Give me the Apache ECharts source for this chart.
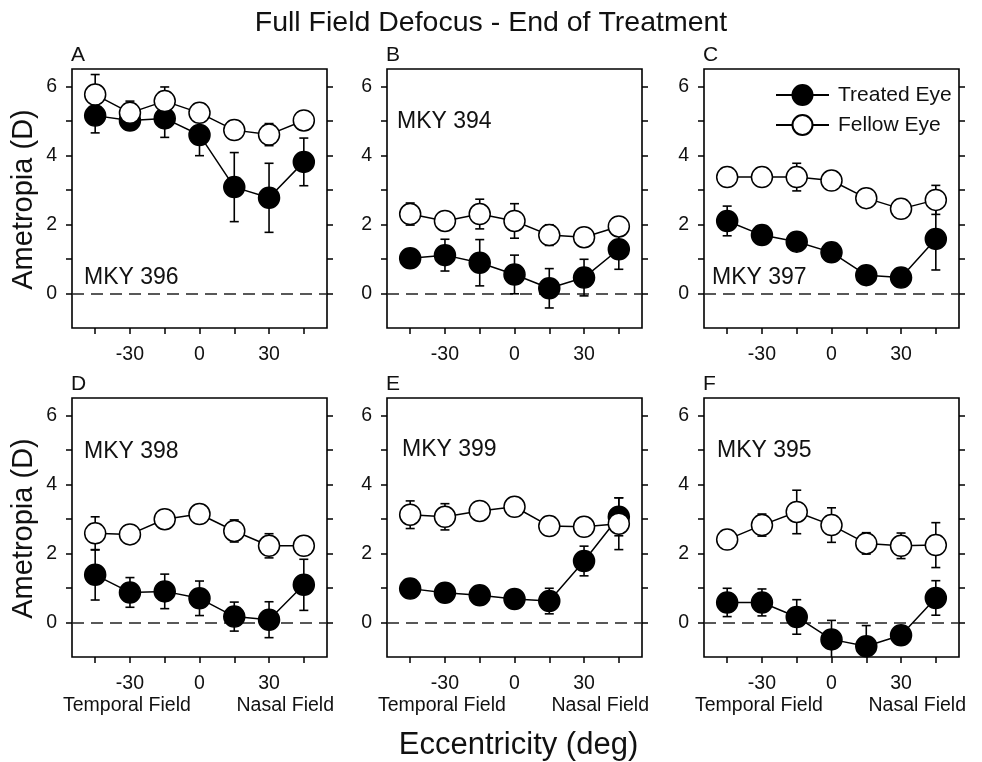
<!DOCTYPE html>
<html>
<head>
<meta charset="utf-8">
<script src="https://cdn.jsdelivr.net/npm/echarts@6/dist/echarts.min.js"></script>
<style>
  html, body { margin: 0; padding: 0; background: #fff; }
  #chart { width: 982px; height: 762px; }
</style>
</head>
<body>
<div id="chart"></div>
<script>
// ---------------- DATA ----------------
const eccentricity = [-45, -30, -15, 0, 15, 30, 45];
const xTicks = [-45, -30, -15, 0, 15, 30, 45];
const xTickLabels = [-30, 0, 30];
const yTicks = [0, 1, 2, 3, 4, 5, 6];
const yTickLabels = [0, 2, 4, 6];
const panelLetters = ['A', 'B', 'C', 'D', 'E', 'F'];
const monkeyNames = ['MKY 396', 'MKY 394', 'MKY 397', 'MKY 398', 'MKY 399', 'MKY 395'];
const seriesNames = ['Treated Eye', 'Fellow Eye'];
const chartTitle = 'Full Field Defocus - End of Treatment';
const xAxisTitle = 'Eccentricity (deg)';
const yAxisTitle = 'Ametropia (D)';
const fieldLabels = ['Temporal Field', 'Nasal Field'];

// Panel A - MKY 396
const treatedA = [5.15, 5.01, 5.07, 4.59, 3.08, 2.77, 3.81];
const treatedErrA = [0.50, 0.20, 0.55, 0.60, 1.00, 1.00, 0.69];
const fellowA = [5.76, 5.23, 5.57, 5.23, 4.73, 4.60, 5.01];
const fellowErrA = [0.58, 0.34, 0.41, 0.20, 0.20, 0.32, 0.20];
// Panel B - MKY 394
const treatedB = [1.02, 1.11, 0.89, 0.55, 0.15, 0.46, 1.28];
const treatedErrB = [0.20, 0.46, 0.67, 0.56, 0.57, 0.53, 0.58];
const fellowB = [2.30, 2.10, 2.30, 2.10, 1.69, 1.63, 1.94];
const fellowErrB = [0.32, 0.20, 0.43, 0.50, 0.30, 0.20, 0.26];
// Panel C - MKY 397
const treatedC = [2.10, 1.69, 1.50, 1.19, 0.53, 0.46, 1.58];
const treatedErrC = [0.43, 0.20, 0.20, 0.20, 0.20, 0.20, 0.90];
const fellowC = [3.37, 3.37, 3.37, 3.27, 2.76, 2.45, 2.71];
const fellowErrC = [0.20, 0.20, 0.40, 0.20, 0.20, 0.20, 0.42];
// Panel D - MKY 398
const treatedD = [1.38, 0.87, 0.90, 0.70, 0.17, 0.08, 1.09];
const treatedErrD = [0.73, 0.43, 0.50, 0.50, 0.42, 0.52, 0.74];
const fellowD = [2.58, 2.55, 2.99, 3.14, 2.65, 2.22, 2.22];
const fellowErrD = [0.48, 0.20, 0.20, 0.20, 0.32, 0.35, 0.20];
// Panel E - MKY 399
const treatedE = [0.98, 0.86, 0.79, 0.68, 0.62, 1.78, 3.06];
const treatedErrE = [0.20, 0.20, 0.20, 0.20, 0.37, 0.43, 0.55];
const fellowE = [3.12, 3.06, 3.23, 3.35, 2.79, 2.77, 2.86];
const fellowErrE = [0.40, 0.38, 0.20, 0.20, 0.20, 0.20, 0.75];
// Panel F - MKY 395
const treatedF = [0.58, 0.58, 0.16, -0.49, -0.69, -0.37, 0.71];
const treatedErrF = [0.41, 0.39, 0.50, 0.55, 0.60, 0.20, 0.50];
const fellowF = [2.40, 2.82, 3.20, 2.82, 2.29, 2.22, 2.24];
const fellowErrF = [0.20, 0.32, 0.63, 0.50, 0.31, 0.37, 0.65];

const panels = [
  { treated: treatedA, treatedErr: treatedErrA, fellow: fellowA, fellowErr: fellowErrA },
  { treated: treatedB, treatedErr: treatedErrB, fellow: fellowB, fellowErr: fellowErrB },
  { treated: treatedC, treatedErr: treatedErrC, fellow: fellowC, fellowErr: fellowErrC },
  { treated: treatedD, treatedErr: treatedErrD, fellow: fellowD, fellowErr: fellowErrD },
  { treated: treatedE, treatedErr: treatedErrE, fellow: fellowE, fellowErr: fellowErrE },
  { treated: treatedF, treatedErr: treatedErrF, fellow: fellowF, fellowErr: fellowErrF }
];

// ---------------- LAYOUT / STYLE ----------------
const FONT = "'Liberation Sans', Arial, Helvetica, sans-serif";
const INK = '#111';
const gridLefts = [72, 387, 704];
const gridTops = [69, 398];
const GW = 255, GH = 259;
const monkeyOffsets = [[12, 209], [10, 53], [8, 208.5], [12, 54], [15, 52], [13, 52.5]];

const grids = [], xAxes = [], yAxes = [], series = [], graphics = [];

function errorBarRender(params, api) {
  const x = api.value(0), y = api.value(1), e = api.value(2);
  const p1 = api.coord([x, y + e]);
  const p2 = api.coord([x, y - e]);
  const cap = 4.5;
  const st = { stroke: '#000', lineWidth: 1.6 };
  return {
    type: 'group',
    children: [
      { type: 'line', shape: { x1: p1[0], y1: p1[1], x2: p2[0], y2: p2[1] }, style: st },
      { type: 'line', shape: { x1: p1[0] - cap, y1: p1[1], x2: p1[0] + cap, y2: p1[1] }, style: st },
      { type: 'line', shape: { x1: p2[0] - cap, y1: p2[1], x2: p2[0] + cap, y2: p2[1] }, style: st }
    ]
  };
}

panels.forEach((p, i) => {
  const col = i % 3, row = Math.floor(i / 3);
  const left = gridLefts[col], top = gridTops[row];
  grids.push({ left: left, top: top, width: GW, height: GH, show: true,
    borderColor: '#000', borderWidth: 1.6, backgroundColor: 'transparent', containLabel: false });
  xAxes.push({
    type: 'value', gridIndex: i, min: -55, max: 55, position: 'bottom',
    axisLine: { show: false, onZero: false },
    axisTick: { show: true, inside: false, length: 6, customValues: xTicks, lineStyle: { color: '#000', width: 1.5 } },
    axisLabel: { show: true, customValues: xTickLabels, margin: 17, fontSize: 19.5, fontFamily: FONT, color: INK },
    splitLine: { show: false }
  });
  yAxes.push({
    type: 'value', gridIndex: i, min: -1, max: 6.5, position: 'left',
    axisLine: { show: false, onZero: false },
    axisTick: { show: true, inside: false, length: 6, customValues: yTicks, lineStyle: { color: '#000', width: 1.5 } },
    axisLabel: { show: true, customValues: yTickLabels, margin: 15, fontSize: 19.5, fontFamily: FONT, color: INK },
    splitLine: { show: false }
  });
  yAxes.push({
    type: 'value', gridIndex: i, min: -1, max: 6.5, position: 'right',
    axisLine: { show: false, onZero: false },
    axisTick: { show: true, inside: false, length: 6, customValues: yTicks, lineStyle: { color: '#000', width: 1.5 } },
    axisLabel: { show: false },
    splitLine: { show: false }
  });
  const yi = i * 2;
  // error bars (below markers)
  series.push({
    type: 'custom', xAxisIndex: i, yAxisIndex: yi, z: 1, clip: true, silent: true,
    renderItem: errorBarRender,
    data: eccentricity.map((x, k) => [x, p.treated[k], p.treatedErr[k]]),
    markLine: {
      silent: true, z: 1, symbol: ['none', 'none'], label: { show: false },
      lineStyle: { type: [12, 7], color: '#222', width: 1.7 },
      data: [{ yAxis: 0 }]
    }
  });
  series.push({
    type: 'custom', xAxisIndex: i, yAxisIndex: yi, z: 1, clip: true, silent: true,
    renderItem: errorBarRender,
    data: eccentricity.map((x, k) => [x, p.fellow[k], p.fellowErr[k]])
  });
  series.push({
    name: seriesNames[0], type: 'line', xAxisIndex: i, yAxisIndex: yi, z: 2,
    symbol: 'circle', symbolSize: 21, clip: true,
    lineStyle: { color: '#000', width: 1.5 },
    itemStyle: { color: '#000', borderColor: '#000', borderWidth: 1.5 },
    data: eccentricity.map((x, k) => [x, p.treated[k]])
  });
  series.push({
    name: seriesNames[1], type: 'line', xAxisIndex: i, yAxisIndex: yi, z: 2,
    symbol: 'circle', symbolSize: 21, clip: true,
    lineStyle: { color: '#000', width: 1.5 },
    itemStyle: { color: '#fff', borderColor: '#000', borderWidth: 1.5 },
    data: eccentricity.map((x, k) => [x, p.fellow[k]])
  });

  // panel letter
  graphics.push({ type: 'text', x: left - 1, y: top - 14,
    style: { text: panelLetters[i], font: '21px ' + FONT, fill: INK, align: 'left', verticalAlign: 'middle' } });
  // monkey label
  graphics.push({ type: 'text', x: left + monkeyOffsets[i][0], y: top + monkeyOffsets[i][1],
    style: { text: monkeyNames[i], font: '23px ' + FONT, fill: INK, align: 'left', verticalAlign: 'middle' } });
  if (row === 1) {
    graphics.push({ type: 'text', x: left - 9, y: 706,
      style: { text: fieldLabels[0], font: '19.5px ' + FONT, fill: INK, align: 'left', verticalAlign: 'middle' } });
    graphics.push({ type: 'text', x: left + GW + 7, y: 706,
      style: { text: fieldLabels[1], font: '19.5px ' + FONT, fill: INK, align: 'right', verticalAlign: 'middle' } });
  }
  if (col === 0) {
    graphics.push({ type: 'text', x: 23.5, y: top + GH / 2 + 1, rotation: Math.PI / 2,
      style: { text: yAxisTitle, font: '29px ' + FONT, fill: INK, align: 'center', verticalAlign: 'middle' } });
  }
});

graphics.push({ type: 'text', x: 491, y: 23.5,
  style: { text: chartTitle, font: '28.5px ' + FONT, fill: INK, align: 'center', verticalAlign: 'middle' } });
graphics.push({ type: 'text', x: 518.5, y: 745,
  style: { text: xAxisTitle, font: '31px ' + FONT, fill: INK, align: 'center', verticalAlign: 'middle' } });

const chart = echarts.init(document.getElementById('chart'), null, { renderer: 'canvas' });
chart.setOption({
  animation: false,
  backgroundColor: '#fff',
  legend: {
    data: seriesNames, left: 770, top: 79, orient: 'vertical',
    itemWidth: 53, itemHeight: 25, itemGap: 8,
    textStyle: { fontSize: 21, fontFamily: FONT, color: INK, padding: [0, 0, 0, 4] }
  },
  grid: grids, xAxis: xAxes, yAxis: yAxes, series: series, graphic: graphics
});
</script>
</body>
</html>
